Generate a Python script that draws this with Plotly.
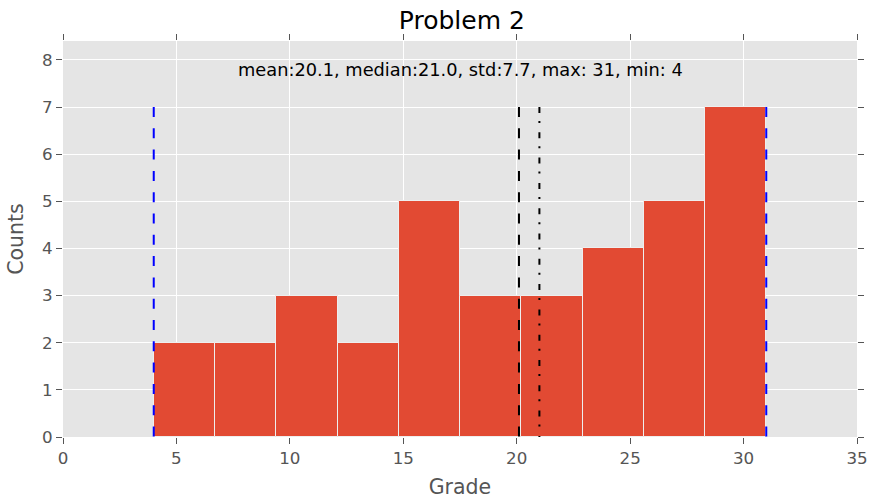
import plotly.graph_objects as go

# Histogram data
bin_edges = [4.0, 6.7, 9.4, 12.1, 14.8, 17.5, 20.2, 22.9, 25.6, 28.3, 31.0]
counts = [2, 2, 3, 2, 5, 3, 3, 4, 5, 7]

grade_mean = 20.1
grade_median = 21.0
grade_std = 7.7
grade_max = 31
grade_min = 4
line_top = 7

x_ticks = [0, 5, 10, 15, 20, 25, 30, 35]
y_ticks = [0, 1, 2, 3, 4, 5, 6, 7, 8]

centers = [(a + b) / 2 for a, b in zip(bin_edges[:-1], bin_edges[1:])]
widths = [b - a for a, b in zip(bin_edges[:-1], bin_edges[1:])]

FONT = "DejaVu Sans"

fig = go.Figure()
fig.add_trace(go.Bar(
    x=centers, y=counts, width=widths,
    marker=dict(color="#E24A33", line=dict(color="#EEEEEE", width=1)),
    showlegend=False,
))

def vline(x, color, dash):
    fig.add_trace(go.Scatter(
        x=[x, x], y=[line_top, 0], mode="lines",
        line=dict(color=color, width=2, dash=dash),
        showlegend=False, hoverinfo="skip",
    ))

vline(grade_min, "blue", "10px,11.3px")
vline(grade_max, "blue", "10px,11.3px")
vline(grade_mean, "black", "10px,11.3px")
vline(grade_median, "black", "6px,8px,2px,9.3px")

fig.add_annotation(
    x=(grade_min + grade_max) / 2, y=7.8, xref="x", yref="y",
    text=f"mean:{grade_mean}, median:{grade_median}, std:{grade_std}, max: {grade_max}, min: {grade_min}",
    showarrow=False, font=dict(family=FONT, size=17.8, color="black"),
    xanchor="center", yanchor="middle",
)

axis_common = dict(
    showgrid=True, gridcolor="white", gridwidth=1,
    zeroline=False, showline=True, linecolor="white", linewidth=1,
    mirror="ticks", ticks="outside", ticklen=6, tickwidth=1, tickcolor="#555555",
    tickfont=dict(family=FONT, size=16.7, color="#555555"),
    automargin=False,
)

fig.update_layout(
    width=869, height=502,
    margin=dict(l=63, r=12, t=41, b=65),
    paper_bgcolor="white", plot_bgcolor="#E5E5E5",
    bargap=0,
    title=dict(text="Problem 2", x=0.5315, xanchor="center", y=1 - 20 / 502, yanchor="middle",
               yref="container", font=dict(family=FONT, size=25, color="black")),
    xaxis=dict(range=[0, 35], tickvals=x_ticks,
               title=dict(text="Grade", font=dict(family=FONT, size=20.5, color="#555555"), standoff=12),
               **axis_common),
    yaxis=dict(range=[0, 8.4], tickvals=y_ticks,
               title=dict(text="Counts", font=dict(family=FONT, size=20.5, color="#555555"), standoff=12),
               **axis_common),
)

fig.write_html("out.html")
